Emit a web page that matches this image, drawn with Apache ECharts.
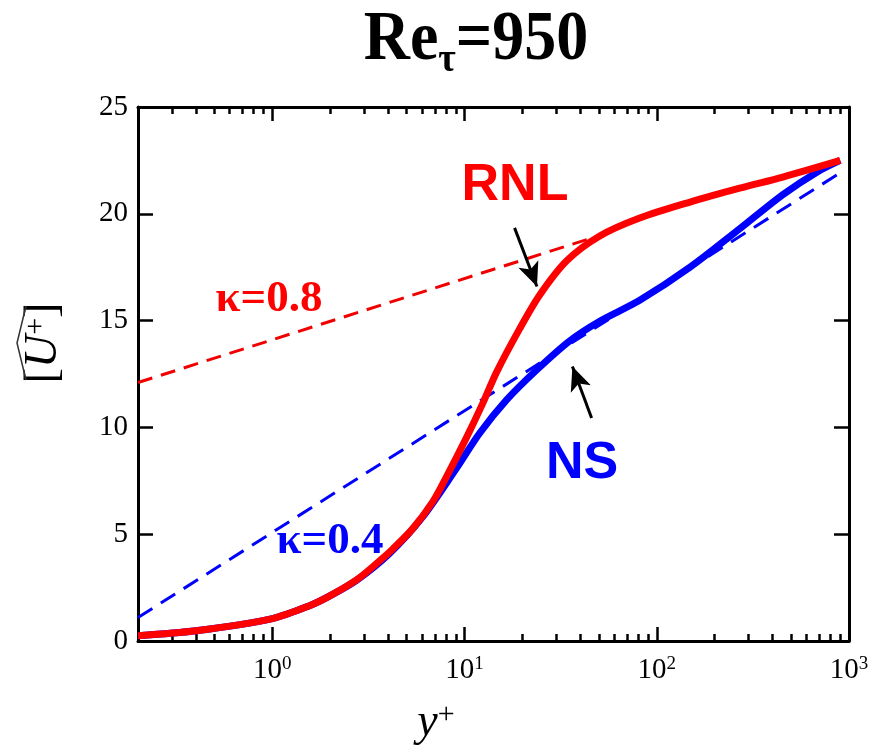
<!DOCTYPE html>
<html>
<head>
<meta charset="utf-8">
<script src="https://cdn.jsdelivr.net/npm/echarts@6/dist/echarts.min.js"></script>
<style>
html, body { margin: 0; padding: 0; background: #fff; }
#chart { width: 873px; height: 749px; }
</style>
</head>
<body>
<div id="chart"></div>
<script>
// Mean streamwise velocity profiles U+ versus wall distance y+ (Re_tau = 950)

// RNL profile
const rnlYPlus = [0.2, 0.4, 1.0, 1.56, 1.98, 2.74, 3.61, 4.22, 5.36, 6.81, 8.06, 10.2, 12.4, 14.7, 19.3, 24.6, 34.0, 50.5, 81.5, 149, 270, 453, 900];
const rnlUPlus = [0.25, 0.48, 1.05, 1.65, 2.1, 2.86, 3.75, 4.3, 5.25, 6.5, 7.7, 9.5, 11.1, 12.6, 14.6, 16.2, 17.8, 18.96, 19.8, 20.55, 21.2, 21.72, 22.5];

// NS (DNS) profile
const nsYPlus = [0.2, 0.4, 1.0, 1.56, 1.98, 2.74, 4.07, 6.04, 9.09, 12.0, 16.5, 23.7, 35.2, 50.0, 81.5, 149, 270, 453, 681, 900];
const nsUPlus = [0.25, 0.48, 1.05, 1.65, 2.1, 2.84, 4.1, 5.8, 8.1, 9.74, 11.28, 12.69, 14.05, 14.95, 15.95, 17.5, 19.3, 20.9, 21.95, 22.5];

// Log-law reference lines (end points)
const logLawRedYPlus = [0.2, 60];
const logLawRedUPlus = [12.1, 19.2];
const logLawBlueYPlus = [0.2, 930];
const logLawBlueUPlus = [1.1, 22.0];

// Pointer arrows: [tail, head] in (y+, U+)
const arrowRNL = [[18.2, 19.34], [23.8, 16.6]];
const arrowNS = [[45.8, 10.44], [36.4, 12.85]];

// Axis ticks
const xMajorTicks = [1, 10, 100, 1000];
const xMinorTicks = [0.2, 0.3, 0.4, 0.5, 0.6, 0.7, 0.8, 0.9,
                     2, 3, 4, 5, 6, 7, 8, 9,
                     20, 30, 40, 50, 60, 70, 80, 90,
                     200, 300, 400, 500, 600, 700, 800, 900];
const yTickLabels = ['0', '5', '10', '15', '20', '25'];

const zip = (xs, ys) => xs.map((x, i) => [x, ys[i]]);

const SERIF = '"Liberation Serif", "Times New Roman", serif';
const SANS = '"Liberation Sans", Arial, sans-serif';
const RED = '#ff0000';
const BLUE = '#0000ff';

function logXAxis(position, opts) {
  return Object.assign({
    type: 'log',
    logBase: 10,
    min: 0.2,
    max: 1000,
    position: position,
    gridIndex: 0,
    axisLine: { show: true, onZero: false, lineStyle: { color: '#000', width: 3 } },
    axisTick: { show: true, inside: true, length: 14, lineStyle: { color: '#000', width: 2.5 }, customValues: xMajorTicks },
    axisLabel: { show: false },
    splitLine: { show: false },
    minorTick: { show: false },
    minorSplitLine: { show: false }
  }, opts || {});
}

function minorXAxis(position) {
  return logXAxis(position, {
    axisLine: { show: false, onZero: false },
    axisTick: { show: true, inside: true, length: 7, lineStyle: { color: '#000', width: 2.5 }, customValues: xMinorTicks }
  });
}

function valueYAxis(position, showLabel) {
  return {
    type: 'value',
    min: 0,
    max: 25,
    interval: 5,
    position: position,
    gridIndex: 0,
    axisLine: { show: true, onZero: false, lineStyle: { color: '#000', width: 3 } },
    axisTick: { show: true, inside: true, length: 15, lineStyle: { color: '#000', width: 2.5 } },
    axisLabel: {
      show: showLabel,
      margin: 10,
      fontFamily: SERIF,
      fontSize: 29,
      color: '#000',
      formatter: v => yTickLabels[Math.round(v / 5)]
    },
    splitLine: { show: false }
  };
}

const chart = echarts.init(document.getElementById('chart'), null, { renderer: 'canvas' });

const option = {
  animation: false,
  backgroundColor: '#fff',
  grid: { left: 138, top: 107, width: 711, height: 534, containLabel: false },
  xAxis: [
    logXAxis('bottom', {
      axisLabel: {
        show: true,
        customValues: xMajorTicks,
        margin: 14,
        formatter: v => '{b|10}{s|' + Math.round(Math.log10(v)) + '}',
        rich: {
          b: { fontFamily: SERIF, fontSize: 29, color: '#000', lineHeight: 30 },
          s: { fontFamily: SERIF, fontSize: 19, color: '#000', lineHeight: 19, verticalAlign: 'top' }
        }
      }
    }),
    logXAxis('top'),
    minorXAxis('bottom'),
    minorXAxis('top')
  ],
  yAxis: [
    valueYAxis('left', true),
    valueYAxis('right', false)
  ],
  series: [
    {
      name: 'log law kappa 0.8',
      type: 'line',
      xAxisIndex: 0, yAxisIndex: 0,
      data: zip(logLawRedYPlus, logLawRedUPlus),
      symbol: 'none',
      lineStyle: { color: '#f00000', width: 3, type: [15, 9] },
      z: 2
    },
    {
      name: 'log law kappa 0.4',
      type: 'line',
      xAxisIndex: 0, yAxisIndex: 0,
      data: zip(logLawBlueYPlus, logLawBlueUPlus),
      symbol: 'none',
      lineStyle: { color: BLUE, width: 3, type: [17, 10] },
      z: 2
    },
    {
      name: 'NS',
      type: 'line',
      xAxisIndex: 0, yAxisIndex: 0,
      data: zip(nsYPlus, nsUPlus),
      symbol: 'none',
      smooth: 0.3,
      lineStyle: { color: BLUE, width: 7 },
      z: 3
    },
    {
      name: 'RNL',
      type: 'line',
      xAxisIndex: 0, yAxisIndex: 0,
      data: zip(rnlYPlus, rnlUPlus),
      symbol: 'none',
      smooth: 0.3,
      lineStyle: { color: RED, width: 7 },
      z: 4,
      markLine: {
        silent: true,
        symbol: ['none', 'arrow'],
        symbolSize: [16, 24],
        lineStyle: { color: '#000', width: 3, type: 'solid' },
        label: { show: false },
        emphasis: { disabled: true },
        data: [
          [{ coord: arrowRNL[0] }, { coord: arrowRNL[1] }],
          [{ coord: arrowNS[0] }, { coord: arrowNS[1] }]
        ]
      }
    }
  ],
  graphic: [
    {
      type: 'text',
      x: 476, y: 46,
      scaleY: 1.1,
      style: {
        text: '{a|Re}{s|τ}{a|=950}',
        align: 'center',
        verticalAlign: 'middle',
        rich: {
          a: { font: 'bold 64px ' + SERIF, fill: '#000', lineHeight: 64, padding: [0, 0, 10, 0] },
          s: { font: 'bold 38px ' + SERIF, fill: '#000', lineHeight: 38, verticalAlign: 'bottom' }
        }
      }
    },
    {
      type: 'text',
      x: 515, y: 186,
      style: { text: 'RNL', font: 'bold 52px ' + SANS, fill: RED, align: 'center', verticalAlign: 'middle' }
    },
    {
      type: 'text',
      x: 582, y: 464,
      style: { text: 'NS', font: 'bold 52px ' + SANS, fill: BLUE, align: 'center', verticalAlign: 'middle' }
    },
    {
      type: 'text',
      x: 269, y: 299,
      style: { text: 'κ=0.8', font: 'bold 45px ' + SERIF, fill: RED, align: 'center', verticalAlign: 'middle' }
    },
    {
      type: 'text',
      x: 330, y: 541,
      style: { text: 'κ=0.4', font: 'bold 45px ' + SERIF, fill: BLUE, align: 'center', verticalAlign: 'middle' }
    },
    {
      type: 'text',
      x: 436, y: 723,
      style: {
        text: '{y|y}{p|+}',
        align: 'center',
        verticalAlign: 'middle',
        rich: {
          y: { font: 'italic 46px ' + SERIF, fill: '#000', lineHeight: 46 },
          p: { font: '30px ' + SERIF, fill: '#000', lineHeight: 30, verticalAlign: 'top' }
        }
      }
    },
    {
      type: 'text',
      x: 44, y: 343,
      rotation: Math.PI / 2,
      style: {
        text: '{br|[}{u|U}{p|+}{br|]}',
        align: 'center',
        verticalAlign: 'middle',
        rich: {
          br: { font: '46px ' + SERIF, fill: '#000', lineHeight: 46 },
          u: { font: 'italic 46px ' + SERIF, fill: '#000', lineHeight: 46 },
          p: { font: '30px ' + SERIF, fill: '#000', lineHeight: 30, verticalAlign: 'top' }
        }
      }
    },
    {
      type: 'polyline',
      shape: { points: [[26, 306], [17, 343], [26, 380]] },
      style: { stroke: '#333', lineWidth: 1.5, fill: null }
    }
  ]
};

chart.setOption(option);
</script>
</body>
</html>
